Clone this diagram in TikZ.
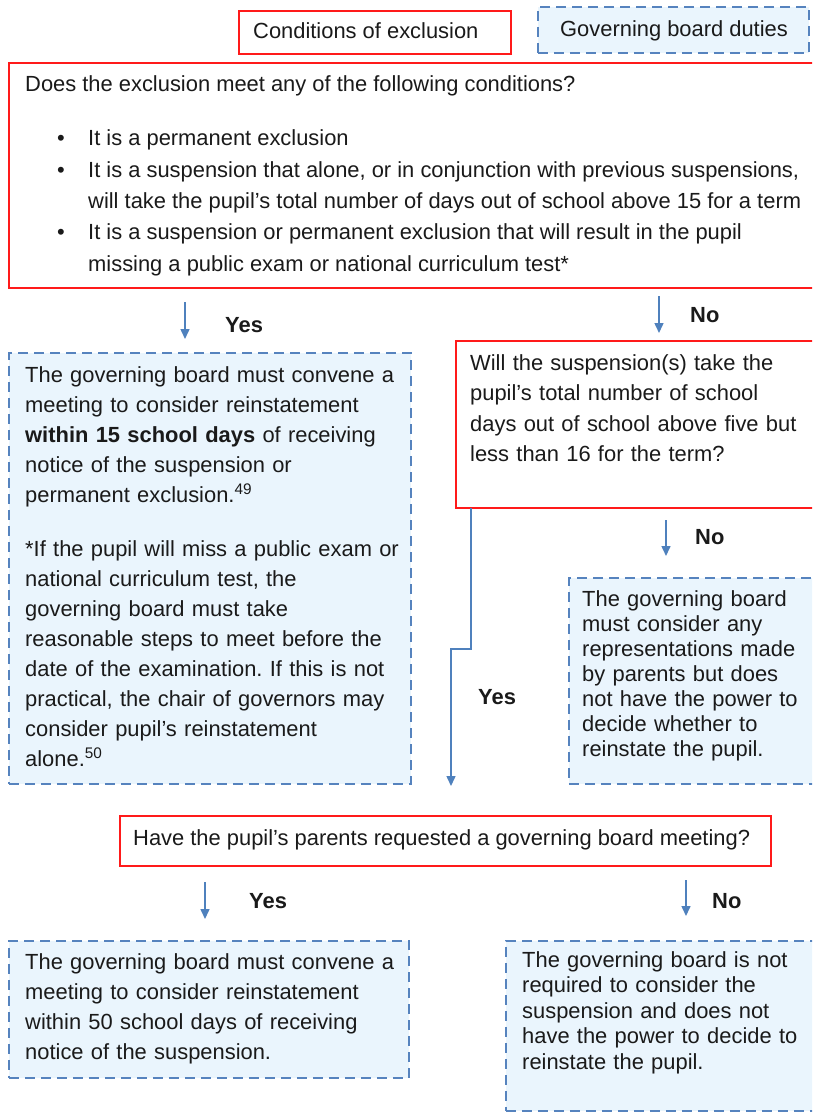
\documentclass[tikz,border=0pt]{standalone}
\usepackage{fontspec}
\setmainfont{Liberation Sans}
\usetikzlibrary{arrows.meta}
\definecolor{boxred}{HTML}{FF1A1A}
\definecolor{dashblue}{HTML}{5683BE}
\definecolor{arrblue}{HTML}{4F81BD}
\definecolor{fillblue}{HTML}{EAF5FD}
\definecolor{txt}{HTML}{1A1A1A}
\frenchspacing
\begin{document}
\begin{tikzpicture}[x=1pt,y=-1pt,
  redbox/.style={draw=boxred,line width=1.7pt,inner sep=0pt,anchor=north west},
  bluebox/.style={draw=dashblue,fill=fillblue,line width=1.6pt,dash pattern=on 10pt off 6pt,inner sep=0pt,anchor=north west},
  txtnode/.style={inner sep=0pt,anchor=base west,align=left,text=txt},
  lbl/.style={inner sep=0pt,anchor=base west,text=txt,font=\fontsize{21.9}{26}\selectfont\bfseries},
  arr/.style={draw=arrblue,line width=1.5pt,-{Triangle[length=10pt,width=9pt]}}]

\useasboundingbox (0,0) rectangle (812,1113);
\fill[white] (0,0) rectangle (812,1113);
\clip (0,0) rectangle (812,1113);

% legend
\node[redbox,minimum width=272pt,minimum height=43pt] (legred) at (238,10) {};
\node[txtnode,font=\fontsize{21.9}{26}\selectfont] (legredt) at (253,39) {Conditions of exclusion};
\node[bluebox,minimum width=271pt,minimum height=46pt] (legblue) at (537,6) {};
\node[txtnode,font=\fontsize{21.9}{26}\selectfont] (legbluet) at (560,37) {Governing board duties};

% main conditions box
\node[redbox,minimum width=810pt,minimum height=225pt] (cond) at (8,62) {};
\node[txtnode,font=\fontsize{21.9}{26}\selectfont] (condq) at (25,92) {Does the exclusion meet any of the following conditions?};
\node[txtnode,font=\fontsize{21.9}{31.3}\selectfont] (condl) at (57,146) {%
\begin{tabular}[t]{@{}p{31pt}@{}l@{}}
\textbullet & It is a permanent exclusion\\
\textbullet & It is a suspension that alone, or in conjunction with previous suspensions,\\
 & will take the pupil’s total number of days out of school above 15 for a term\\
\textbullet & It is a suspension or permanent exclusion that will result in the pupil\\
 & missing a public exam or national curriculum test*
\end{tabular}};

% first yes / no
\coordinate (a1s) at (185,302); \coordinate (a1e) at (185,339);
\draw[arr] (a1s) -- (a1e);
\node[lbl] (yes1) at (225,332) {Yes};
\coordinate (a2s) at (659,296); \coordinate (a2e) at (659,333);
\draw[arr] (a2s) -- (a2e);
\node[lbl] (no1) at (690,322) {No};

% left duties box
\node[bluebox,minimum width=402pt,minimum height=431pt] (duty1) at (8,352) {};
\node[txtnode,text width=400pt,font=\fontsize{21.9}{30}\selectfont] (duty1t) at (25,382) {%
The governing board must convene a\\
meeting to consider reinstatement\\
\textbf{within 15 school days} of receiving\\
notice of the suspension or\\
permanent exclusion.\textsuperscript{49}\\[24pt]
*If the pupil will miss a public exam or\\
national curriculum test, the\\
governing board must take\\
reasonable steps to meet before the\\
date of the examination. If this is not\\
practical, the chair of governors may\\
consider pupil’s reinstatement\\
alone.\textsuperscript{50}};

% right question box
\node[redbox,minimum width=360pt,minimum height=167pt] (susp) at (455,340) {};
\node[txtnode,text width=340pt,font=\fontsize{21.9}{30.5}\selectfont] (suspt) at (470,370) {%
Will the suspension(s) take the\\
pupil’s total number of school\\
days out of school above five but\\
less than 16 for the term?};

% yes connector from question
\coordinate (ys) at (471,508);
\coordinate (yb1) at (471,649);
\coordinate (yb2) at (451,649);
\coordinate (ye) at (451,786);
\draw[arr] (ys) -- (yb1) -- (yb2) -- (ye);
\node[lbl] (yes2) at (478,704) {Yes};

% no arrow to representations
\coordinate (a3s) at (666,520); \coordinate (a3e) at (666,556);
\draw[arr] (a3s) -- (a3e);
\node[lbl] (no2) at (695,544) {No};

\node[bluebox,minimum width=250pt,minimum height=206pt] (duty2) at (568,577) {};
\node[txtnode,text width=240pt,font=\fontsize{21.9}{25.1}\selectfont] (duty2t) at (582,606) {%
The governing board\\
must consider any\\
representations made\\
by parents but does\\
not have the power to\\
decide whether to\\
reinstate the pupil.};

% parents question
\node[redbox,minimum width=651pt,minimum height=50pt] (par) at (119,815) {};
\node[txtnode,font=\fontsize{21.9}{26}\selectfont] (part) at (133,845) {Have the pupil’s parents requested a governing board meeting?};

\coordinate (a4s) at (205,882); \coordinate (a4e) at (205,919);
\draw[arr] (a4s) -- (a4e);
\node[lbl] (yes3) at (249,908) {Yes};
\coordinate (a5s) at (686,880); \coordinate (a5e) at (686,916);
\draw[arr] (a5s) -- (a5e);
\node[lbl] (no3) at (712,908) {No};

% bottom boxes
\node[bluebox,minimum width=400pt,minimum height=137pt] (duty3) at (8,940) {};
\node[txtnode,text width=390pt,font=\fontsize{21.9}{30}\selectfont] (duty3t) at (25,969) {%
The governing board must convene a\\
meeting to consider reinstatement\\
within 50 school days of receiving\\
notice of the suspension.};

\node[bluebox,minimum width=312pt,minimum height=170pt] (duty4) at (505,940) {};
\node[txtnode,text width=290pt,font=\fontsize{21.9}{25.5}\selectfont] (duty4t) at (522,967) {%
The governing board is not\\
required to consider the\\
suspension and does not\\
have the power to decide to\\
reinstate the pupil.};
\end{tikzpicture}
\end{document}
